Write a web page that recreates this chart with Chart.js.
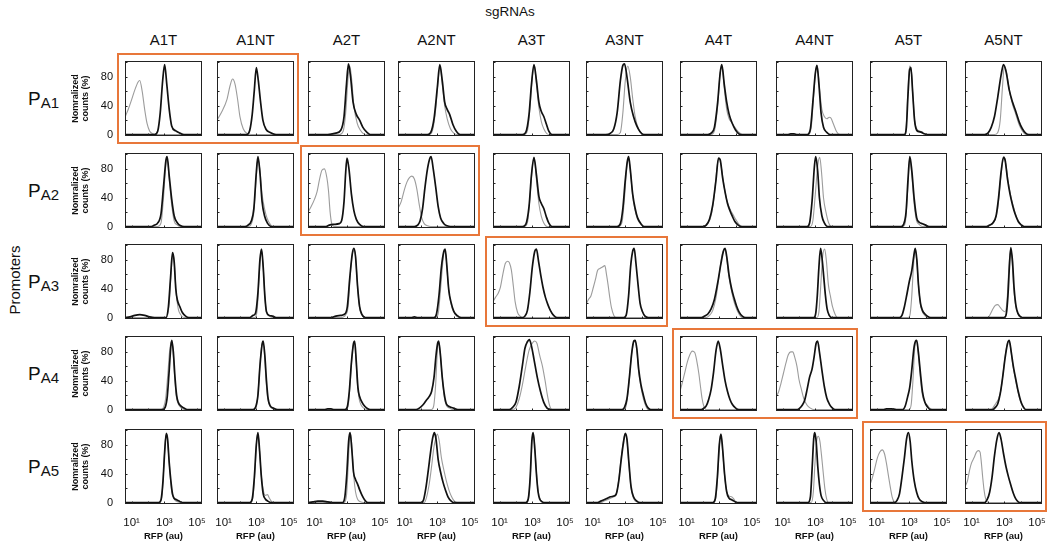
<!DOCTYPE html>
<html>
<head>
<meta charset="utf-8">
<script src="https://cdn.jsdelivr.net/npm/chart.js@4.4.1/dist/chart.umd.min.js"></script>
<style>
  body { margin: 0; background: #fff; font-family: "Liberation Sans", Arial, sans-serif; }
  #wrap { position: relative; width: 1051px; height: 544px; overflow: hidden; }
  .lbl { position: absolute; color: #111; white-space: nowrap; }
  canvas { position: absolute; }
  .box { position: absolute; border: 2px solid #e8773a; box-sizing: border-box; }
</style>
</head>
<body>
<div id="wrap"></div>
<script>
// columns / rows of the grid
const sgRNAs = ['A1T', 'A1NT', 'A2T', 'A2NT', 'A3T', 'A3NT', 'A4T', 'A4NT', 'A5T', 'A5NT'];
const promoters = ['A1', 'A2', 'A3', 'A4', 'A5'];
// each promoter is boxed with its own targeting / non-targeting sgRNA pair
const boxedPairs = [['A1T', 'A1NT'], ['A2T', 'A2NT'], ['A3T', 'A3NT'], ['A4T', 'A4NT'], ['A5T', 'A5NT']];

// x is log10(RFP), y is normalized counts (%)
const xTicks = [1, 3, 5];
const xTickLabels = ['10¹', '10³', '10⁵'];
const yTicks = [0, 40, 80];

// black = reference histogram, grey = overlay, one curve per sgRNA column
const blackPA1 = [
  [[0.6,0],[2.4,0],[2.6,5],[2.75,30],[2.9,75],[3.02,97],[3.15,70],[3.3,35],[3.45,12],[3.7,5],[3.95,2],[4.2,0],[5.3,0]],
  [[0.6,0],[2.4,0],[2.6,6],[2.75,28],[2.88,62],[3.0,93],[3.12,75],[3.25,47],[3.4,20],[3.6,7],[3.85,3],[4.2,0],[5.3,0]],
  [[0.6,0],[1.8,0],[2.3,2],[2.6,6],[2.8,25],[2.95,70],[3.07,98],[3.2,80],[3.35,45],[3.55,28],[3.75,20],[3.95,10],[4.2,3],[4.4,0],[5.3,0]],
  [[0.6,0],[2.4,0],[2.6,3],[2.8,22],[3.0,65],[3.15,97],[3.3,75],[3.45,45],[3.6,35],[3.75,28],[3.95,14],[4.15,5],[4.4,0],[5.3,0]],
  [[0.6,0],[2.4,0],[2.6,3],[2.8,28],[2.95,70],[3.1,97],[3.25,75],[3.4,45],[3.55,32],[3.7,25],[3.85,15],[4.0,5],[4.2,0],[5.3,0]],
  [[0.6,0],[1.8,0],[2.1,2],[2.3,8],[2.5,30],[2.7,75],[2.85,96],[2.95,98],[3.1,80],[3.3,45],[3.5,25],[3.7,12],[3.9,4],[4.1,0],[5.3,0]],
  [[0.6,0],[2.3,0],[2.5,2],[2.7,10],[2.9,45],[3.05,85],[3.15,97],[3.3,70],[3.45,45],[3.6,28],[3.8,15],[4.0,6],[4.3,0],[5.3,0]],
  [[0.6,0],[1.3,0],[1.5,1],[1.7,1],[1.9,0],[2.5,0],[2.7,8],[2.85,45],[3.0,85],[3.1,96],[3.22,70],[3.35,30],[3.5,10],[3.7,3],[3.9,0],[5.3,0]],
  [[0.6,0],[2.7,0],[2.82,10],[2.92,55],[3.02,90],[3.1,93],[3.2,60],[3.32,20],[3.45,6],[3.6,4],[3.75,3],[3.9,1],[4.1,0],[5.3,0]],
  [[0.6,0],[1.8,0],[2.0,2],[2.2,10],[2.4,25],[2.6,52],[2.8,82],[2.95,97],[3.1,88],[3.3,62],[3.5,45],[3.7,32],[3.9,18],[4.1,8],[4.3,2],[4.5,0],[5.3,0]]
];
const greyPA1 = [
  [[0.6,24],[0.8,35],[1.0,48],[1.2,62],[1.4,73],[1.5,75],[1.65,60],[1.8,35],[1.95,15],[2.1,5],[2.3,1],[2.5,0],[5.3,0]],
  [[0.6,20],[0.9,32],[1.2,48],[1.4,68],[1.55,77],[1.7,70],[1.85,50],[2.0,25],[2.2,8],[2.45,1],[2.7,0],[5.3,0]],
  [[0.6,0],[2.5,0],[2.75,5],[2.9,30],[3.05,80],[3.15,95],[3.25,80],[3.4,40],[3.6,16],[3.8,6],[4.0,1],[4.2,0],[5.3,0]],
  [[0.6,0],[2.5,0],[2.7,5],[2.9,35],[3.05,75],[3.17,95],[3.3,70],[3.45,40],[3.6,22],[3.8,8],[4.0,2],[4.2,0],[5.3,0]],
  [[0.6,0],[2.5,0],[2.7,5],[2.85,35],[3.0,80],[3.12,96],[3.25,70],[3.4,38],[3.55,18],[3.7,8],[3.9,1],[4.1,0],[5.3,0]],
  [[0.6,0],[2.5,0],[2.7,3],[2.85,30],[3.0,75],[3.15,95],[3.3,80],[3.45,50],[3.6,25],[3.8,8],[4.0,2],[4.2,0],[5.3,0]],
  [[0.6,0],[2.5,0],[2.7,5],[2.9,40],[3.05,85],[3.17,95],[3.3,65],[3.45,35],[3.6,22],[3.75,17],[3.95,10],[4.15,4],[4.4,0],[5.3,0]],
  [[0.6,0],[2.55,0],[2.75,10],[2.9,55],[3.05,92],[3.12,95],[3.25,65],[3.4,35],[3.55,25],[3.7,22],[3.85,24],[3.95,23],[4.1,15],[4.3,4],[4.5,0],[5.3,0]],
  [[0.6,0],[2.7,0],[2.82,15],[2.92,65],[3.02,95],[3.12,90],[3.22,55],[3.32,20],[3.45,8],[3.6,5],[3.75,4],[3.9,2],[4.1,0],[5.3,0]],
  [[0.6,0],[2.4,0],[2.6,3],[2.75,20],[2.9,70],[3.0,95],[3.15,85],[3.3,62],[3.5,42],[3.7,28],[3.9,14],[4.1,5],[4.3,0],[5.3,0]]
];

const blackPA2 = [
  [[0.6,0],[2.2,0],[2.4,2],[2.6,5],[2.8,18],[2.95,55],[3.1,92],[3.17,97],[3.3,70],[3.45,38],[3.6,15],[3.8,5],[4.0,1],[4.2,0],[5.3,0]],
  [[0.6,0],[2.3,0],[2.5,2],[2.7,8],[2.85,25],[3.0,75],[3.1,97],[3.22,75],[3.35,35],[3.5,15],[3.7,4],[3.9,0],[5.3,0]],
  [[0.6,0],[1.7,0],[1.9,2],[2.2,3],[2.5,4],[2.65,8],[2.8,35],[2.9,75],[2.98,95],[3.1,80],[3.25,45],[3.4,22],[3.55,10],[3.75,3],[4.0,0],[5.3,0]],
  [[0.6,0],[1.6,0],[1.8,2],[1.95,8],[2.1,25],[2.25,55],[2.4,80],[2.55,95],[2.62,97],[2.75,80],[2.9,55],[3.05,28],[3.2,12],[3.4,4],[3.6,1],[3.8,0],[5.3,0]],
  [[0.6,0],[2.4,0],[2.6,3],[2.8,28],[2.95,72],[3.1,96],[3.25,72],[3.4,42],[3.55,32],[3.7,25],[3.85,14],[4.0,5],[4.2,0],[5.3,0]],
  [[0.6,0],[2.5,0],[2.7,4],[2.85,25],[3.0,65],[3.12,90],[3.2,97],[3.3,80],[3.45,45],[3.6,25],[3.75,12],[3.95,4],[4.15,0],[5.3,0]],
  [[0.6,0],[2.0,0],[2.2,2],[2.4,10],[2.6,30],[2.8,65],[2.95,95],[3.05,93],[3.2,68],[3.35,48],[3.5,32],[3.65,22],[3.8,14],[3.95,7],[4.15,2],[4.35,0],[5.3,0]],
  [[0.6,0],[2.5,0],[2.65,5],[2.8,35],[2.95,85],[3.03,97],[3.15,75],[3.25,40],[3.4,15],[3.55,5],[3.75,0],[5.3,0]],
  [[0.6,0],[2.5,0],[2.65,3],[2.8,20],[2.92,65],[3.03,97],[3.15,78],[3.3,38],[3.45,12],[3.6,6],[3.8,4],[4.0,2],[4.2,0],[5.3,0]],
  [[0.6,0],[1.9,0],[2.1,2],[2.3,5],[2.5,15],[2.65,40],[2.8,75],[2.95,96],[3.05,92],[3.2,65],[3.35,45],[3.5,30],[3.65,18],[3.85,7],[4.05,2],[4.2,0],[5.3,0]]
];
const greyPA2 = [
  [[0.6,0],[2.6,0],[2.8,5],[2.95,40],[3.1,88],[3.17,95],[3.3,65],[3.45,30],[3.6,8],[3.8,2],[4.0,0],[5.3,0]],
  [[0.6,0],[2.5,0],[2.7,4],[2.85,20],[3.0,70],[3.1,95],[3.22,78],[3.35,45],[3.5,25],[3.65,12],[3.85,3],[4.0,0],[5.3,0]],
  [[0.6,20],[0.8,28],[1.0,38],[1.15,48],[1.3,65],[1.45,78],[1.6,80],[1.75,68],[1.85,50],[1.95,20],[2.05,4],[2.2,0],[5.3,0]],
  [[0.6,25],[0.8,35],[1.0,52],[1.15,62],[1.3,68],[1.45,70],[1.6,66],[1.75,52],[1.9,30],[2.05,12],[2.2,4],[2.4,1],[2.6,0],[5.3,0]],
  [[0.6,0],[2.5,0],[2.7,5],[2.85,38],[3.0,82],[3.12,95],[3.25,65],[3.4,32],[3.55,14],[3.7,5],[3.9,0],[5.3,0]],
  [[0.6,0],[2.6,0],[2.8,6],[2.95,40],[3.1,85],[3.2,95],[3.3,78],[3.45,42],[3.6,22],[3.75,10],[3.95,3],[4.1,0],[5.3,0]],
  [[0.6,0],[2.1,0],[2.3,4],[2.5,15],[2.7,45],[2.85,80],[2.97,95],[3.1,85],[3.25,62],[3.4,42],[3.55,30],[3.7,22],[3.85,16],[4.0,10],[4.2,3],[4.4,0],[5.3,0]],
  [[0.6,0],[2.7,0],[2.85,8],[3.0,45],[3.15,85],[3.27,96],[3.38,75],[3.5,40],[3.65,20],[3.8,6],[4.0,0],[5.3,0]],
  [[0.6,0],[2.6,0],[2.75,5],[2.9,50],[3.02,95],[3.14,75],[3.28,35],[3.42,10],[3.6,3],[3.8,0],[5.3,0]],
  [[0.6,0],[2.0,0],[2.2,3],[2.4,8],[2.6,25],[2.75,60],[2.9,90],[2.98,97],[3.1,85],[3.25,60],[3.4,42],[3.55,28],[3.7,16],[3.9,6],[4.1,1],[4.3,0],[5.3,0]]
];

const blackPA3 = [
  [[0.6,0],[0.9,1],[1.2,3],[1.5,4],[1.8,3],[2.1,1],[2.4,0],[3.1,0],[3.25,15],[3.38,55],[3.5,90],[3.6,78],[3.7,40],[3.8,24],[3.95,15],[4.1,7],[4.3,2],[4.5,0],[5.3,0]],
  [[0.6,0],[2.6,0],[2.8,3],[2.95,6],[3.1,35],[3.22,80],[3.32,95],[3.42,70],[3.52,30],[3.62,8],[3.8,3],[4.0,2],[4.2,0],[5.3,0]],
  [[0.6,0],[2.0,0],[2.3,2],[2.6,3],[2.85,5],[3.0,15],[3.15,55],[3.3,88],[3.4,96],[3.5,85],[3.62,45],[3.75,15],[3.9,4],[4.1,0],[5.3,0]],
  [[0.6,0],[1.4,0],[1.6,1],[1.8,0],[2.8,0],[2.95,5],[3.1,30],[3.25,70],[3.4,92],[3.48,95],[3.58,72],[3.7,38],[3.85,20],[4.0,9],[4.2,3],[4.45,0],[5.3,0]],
  [[0.6,0],[2.4,0],[2.55,2],[2.7,10],[2.85,35],[3.0,70],[3.15,92],[3.25,95],[3.38,78],[3.52,58],[3.65,42],[3.8,28],[3.95,18],[4.1,10],[4.3,3],[4.5,0],[5.3,0]],
  [[0.6,0],[2.9,0],[3.05,3],[3.2,30],[3.32,70],[3.45,92],[3.54,96],[3.65,75],[3.78,45],[3.9,20],[4.05,8],[4.2,2],[4.4,0],[5.3,0]],
  [[0.6,0],[1.9,0],[2.1,2],[2.3,5],[2.5,12],[2.7,25],[2.9,48],[3.1,75],[3.25,92],[3.35,96],[3.45,85],[3.6,58],[3.75,40],[3.9,27],[4.05,16],[4.2,8],[4.4,2],[4.6,0],[5.3,0]],
  [[0.6,0],[2.9,0],[3.02,5],[3.12,30],[3.22,70],[3.32,96],[3.42,80],[3.52,55],[3.62,30],[3.72,12],[3.85,3],[4.0,0],[5.3,0]],
  [[0.6,0],[2.4,0],[2.55,3],[2.7,15],[2.85,32],[3.0,50],[3.15,65],[3.27,85],[3.36,96],[3.46,80],[3.56,45],[3.68,20],[3.8,10],[3.95,5],[4.1,2],[4.3,0],[5.3,0]],
  [[0.6,0],[3.0,0],[3.12,5],[3.22,30],[3.32,75],[3.4,97],[3.5,78],[3.6,40],[3.72,15],[3.85,5],[4.0,1],[4.15,0],[5.3,0]]
];
const greyPA3 = [
  [[0.6,0],[3.15,0],[3.3,20],[3.42,65],[3.52,88],[3.62,72],[3.72,35],[3.85,12],[4.0,4],[4.2,0],[5.3,0]],
  [[0.6,0],[2.9,0],[3.05,10],[3.17,55],[3.3,94],[3.42,70],[3.52,30],[3.62,8],[3.8,2],[4.0,0],[5.3,0]],
  [[0.6,0],[2.6,0],[2.9,4],[3.05,15],[3.2,65],[3.35,92],[3.45,93],[3.55,70],[3.65,35],[3.78,10],[3.95,2],[4.1,0],[5.3,0]],
  [[0.6,0],[2.9,0],[3.05,5],[3.2,40],[3.35,80],[3.45,94],[3.55,80],[3.65,50],[3.78,25],[3.92,12],[4.1,4],[4.3,0],[5.3,0]],
  [[0.6,22],[0.75,28],[0.9,33],[1.05,42],[1.2,60],[1.35,75],[1.5,78],[1.6,76],[1.72,66],[1.85,42],[1.95,22],[2.1,7],[2.25,2],[2.4,0],[5.3,0]],
  [[0.6,18],[0.75,25],[0.9,30],[1.05,42],[1.2,55],[1.3,65],[1.45,68],[1.6,70],[1.75,72],[1.85,60],[1.95,45],[2.05,28],[2.15,14],[2.3,3],[2.45,0],[5.3,0]],
  [[0.6,0],[2.2,0],[2.4,3],[2.6,10],[2.8,28],[3.0,60],[3.15,85],[3.3,95],[3.42,88],[3.55,62],[3.7,42],[3.85,26],[4.0,15],[4.2,5],[4.4,0],[5.3,0]],
  [[0.6,0],[3.1,0],[3.22,8],[3.32,40],[3.45,85],[3.57,95],[3.67,80],[3.8,45],[3.92,30],[4.05,15],[4.2,5],[4.35,0],[5.3,0]],
  [[0.6,0],[2.95,0],[3.05,5],[3.15,30],[3.25,70],[3.35,94],[3.45,80],[3.56,45],[3.68,18],[3.8,8],[3.95,3],[4.1,0],[5.3,0]],
  [[0.6,0],[2.0,0],[2.15,5],[2.3,12],[2.45,17],[2.6,18],[2.75,14],[2.9,10],[3.05,8],[3.17,25],[3.27,65],[3.37,94],[3.47,80],[3.57,42],[3.7,15],[3.85,4],[4.0,0],[5.3,0]]
];

const blackPA4 = [
  [[0.6,0],[2.9,0],[3.05,3],[3.18,18],[3.3,55],[3.4,88],[3.46,96],[3.55,80],[3.65,45],[3.75,20],[3.85,10],[4.0,5],[4.2,2],[4.4,0],[5.3,0]],
  [[0.6,0],[2.8,0],[2.95,3],[3.1,20],[3.22,60],[3.35,90],[3.42,95],[3.52,75],[3.62,40],[3.72,15],[3.85,5],[4.05,2],[4.3,0],[5.3,0]],
  [[0.6,0],[1.6,0],[1.8,1],[2.0,1],[2.2,0],[2.85,0],[3.0,4],[3.12,25],[3.25,65],[3.38,92],[3.45,95],[3.55,65],[3.65,30],[3.75,18],[3.9,10],[4.05,5],[4.25,1],[4.4,0],[5.3,0]],
  [[0.6,0],[1.7,0],[1.9,2],[2.1,6],[2.3,12],[2.5,18],[2.65,25],[2.8,45],[2.92,75],[3.02,92],[3.08,95],[3.18,78],[3.3,45],[3.42,22],[3.55,8],[3.75,4],[4.0,2],[4.25,0],[5.3,0]],
  [[0.6,0],[1.6,0],[1.8,3],[2.0,10],[2.2,32],[2.4,62],[2.55,85],[2.7,94],[2.82,97],[2.95,88],[3.1,70],[3.3,45],[3.5,25],[3.7,10],[3.9,2],[4.1,0],[5.3,0]],
  [[0.6,0],[2.8,0],[2.95,3],[3.1,15],[3.25,45],[3.4,80],[3.52,95],[3.6,96],[3.7,85],[3.82,55],[3.95,35],[4.1,20],[4.25,8],[4.4,2],[4.55,0],[5.3,0]],
  [[0.6,0],[1.9,0],[2.05,2],[2.2,5],[2.35,14],[2.5,28],[2.65,52],[2.8,82],[2.93,95],[3.05,85],[3.2,62],[3.35,40],[3.5,25],[3.65,14],[3.8,7],[4.0,2],[4.2,0],[5.3,0]],
  [[0.6,0],[1.9,0],[2.05,2],[2.2,6],[2.35,13],[2.5,28],[2.65,45],[2.8,56],[2.92,72],[3.05,92],[3.14,95],[3.25,80],[3.4,55],[3.55,32],[3.7,16],[3.85,8],[4.0,3],[4.2,0],[5.3,0]],
  [[0.6,0],[1.4,0],[1.6,1],[1.9,1],[2.2,0],[2.6,0],[2.75,5],[2.9,18],[3.02,30],[3.15,55],[3.28,85],[3.38,95],[3.45,96],[3.55,80],[3.68,50],[3.8,25],[3.95,10],[4.1,4],[4.3,0],[5.3,0]],
  [[0.6,0],[2.3,0],[2.45,3],[2.6,8],[2.75,22],[2.9,45],[3.05,72],[3.2,92],[3.3,96],[3.42,80],[3.55,60],[3.7,42],[3.85,25],[4.0,12],[4.15,4],[4.3,0],[5.3,0]]
];
const greyPA4 = [
  [[0.6,0],[2.8,0],[2.95,3],[3.08,15],[3.2,45],[3.32,80],[3.42,94],[3.52,85],[3.62,50],[3.72,20],[3.85,8],[4.0,3],[4.2,0],[5.3,0]],
  [[0.6,0],[2.85,0],[3.0,4],[3.12,28],[3.25,70],[3.38,94],[3.48,82],[3.58,45],[3.68,18],[3.8,6],[3.95,2],[4.1,0],[5.3,0]],
  [[0.6,0],[2.9,0],[3.05,5],[3.17,35],[3.3,78],[3.42,94],[3.52,72],[3.62,35],[3.72,15],[3.85,6],[4.0,2],[4.2,0],[5.3,0]],
  [[0.6,0],[2.65,0],[2.78,5],[2.9,35],[3.0,80],[3.08,94],[3.18,78],[3.3,45],[3.42,18],[3.55,6],[3.75,2],[3.95,0],[5.3,0]],
  [[0.6,0],[1.8,0],[2.0,3],[2.2,15],[2.4,35],[2.6,60],[2.8,82],[3.0,92],[3.15,95],[3.28,92],[3.45,75],[3.62,60],[3.78,40],[3.92,20],[4.05,6],[4.2,0],[5.3,0]],
  [[0.6,0],[2.9,0],[3.05,5],[3.2,30],[3.35,70],[3.5,92],[3.6,95],[3.7,82],[3.82,52],[3.95,32],[4.1,15],[4.25,5],[4.4,0],[5.3,0]],
  [[0.6,25],[0.75,38],[0.9,52],[1.05,66],[1.2,76],[1.35,81],[1.5,79],[1.62,68],[1.75,50],[1.85,32],[1.95,15],[2.05,5],[2.2,0],[5.3,0]],
  [[0.6,18],[0.75,24],[0.9,36],[1.05,50],[1.2,64],[1.35,76],[1.5,80],[1.62,80],[1.75,72],[1.88,60],[2.0,42],[2.15,28],[2.3,15],[2.5,6],[2.7,2],[2.9,0],[5.3,0]],
  [[0.6,0],[3.0,0],[3.12,8],[3.22,40],[3.33,85],[3.43,95],[3.55,78],[3.67,45],[3.8,20],[3.95,10],[4.1,6],[4.25,2],[4.4,0],[5.3,0]],
  [[0.6,0],[2.2,0],[2.35,4],[2.5,9],[2.65,15],[2.8,28],[2.95,55],[3.1,82],[3.25,95],[3.35,90],[3.5,65],[3.65,45],[3.8,28],[3.95,14],[4.1,5],[4.3,0],[5.3,0]]
];

const blackPA5 = [
  [[0.6,0],[2.65,0],[2.8,4],[2.92,30],[3.02,70],[3.12,96],[3.2,88],[3.3,55],[3.4,30],[3.5,12],[3.6,6],[3.75,4],[3.9,2],[4.1,0],[5.3,0]],
  [[0.6,0],[2.6,0],[2.75,5],[2.88,35],[3.0,80],[3.1,97],[3.2,72],[3.3,38],[3.42,12],[3.55,5],[3.7,2],[3.9,0],[5.3,0]],
  [[0.6,0],[0.9,1],[1.2,2],[1.5,2],[1.8,1],[2.1,0],[2.7,0],[2.85,8],[2.97,40],[3.08,85],[3.17,97],[3.27,75],[3.38,42],[3.5,32],[3.62,26],[3.75,18],[3.9,10],[4.05,4],[4.25,0],[5.3,0]],
  [[0.6,0],[2.0,0],[2.15,3],[2.3,20],[2.45,45],[2.6,72],[2.72,90],[2.82,97],[2.92,88],[3.05,60],[3.2,42],[3.35,28],[3.5,17],[3.65,8],[3.85,2],[4.0,0],[5.3,0]],
  [[0.6,0],[2.6,0],[2.75,5],[2.87,35],[2.97,85],[3.05,97],[3.15,75],[3.25,40],[3.35,15],[3.45,5],[3.6,1],[3.8,0],[5.3,0]],
  [[0.6,0],[1.3,0],[1.5,2],[1.7,4],[1.9,6],[2.1,8],[2.3,9],[2.45,12],[2.6,30],[2.75,60],[2.9,85],[3.0,96],[3.1,88],[3.22,55],[3.35,22],[3.5,8],[3.7,2],[3.9,0],[5.3,0]],
  [[0.6,0],[2.6,0],[2.75,5],[2.88,35],[3.0,80],[3.1,95],[3.2,75],[3.32,40],[3.45,15],[3.6,6],[3.75,4],[3.9,2],[4.05,0],[5.3,0]],
  [[0.6,0],[2.55,0],[2.7,8],[2.8,45],[2.9,88],[2.96,97],[3.05,85],[3.15,50],[3.25,25],[3.35,10],[3.5,3],[3.65,0],[5.3,0]],
  [[0.6,0],[2.1,0],[2.25,3],[2.4,12],[2.55,35],[2.7,62],[2.83,88],[2.94,97],[3.05,85],[3.15,58],[3.3,30],[3.45,14],[3.6,5],[3.8,1],[3.95,0],[5.3,0]],
  [[0.6,0],[1.8,0],[1.95,4],[2.1,14],[2.25,35],[2.4,65],[2.55,88],[2.68,97],[2.8,88],[2.95,68],[3.1,50],[3.25,36],[3.4,24],[3.55,13],[3.7,5],[3.85,1],[4.0,0],[5.3,0]]
];
const greyPA5 = [
  [[0.6,0],[2.7,0],[2.85,8],[2.97,50],[3.08,90],[3.15,95],[3.25,70],[3.35,40],[3.45,15],[3.6,5],[3.8,1],[4.0,0],[5.3,0]],
  [[0.6,0],[2.65,0],[2.8,8],[2.92,45],[3.03,88],[3.1,95],[3.2,70],[3.3,38],[3.42,18],[3.55,10],[3.68,11],[3.8,6],[3.95,1],[4.1,0],[5.3,0]],
  [[0.6,0],[2.8,0],[2.95,10],[3.05,50],[3.14,90],[3.2,95],[3.3,70],[3.4,35],[3.5,15],[3.62,5],[3.8,1],[4.0,0],[5.3,0]],
  [[0.6,0],[2.2,0],[2.35,8],[2.5,25],[2.65,50],[2.8,78],[2.92,90],[3.0,95],[3.12,85],[3.25,62],[3.4,45],[3.55,30],[3.7,18],[3.85,9],[4.0,3],[4.2,0],[5.3,0]],
  [[0.6,0],[2.65,0],[2.8,10],[2.92,55],[3.02,95],[3.1,90],[3.2,60],[3.3,28],[3.4,10],[3.55,2],[3.7,0],[5.3,0]],
  [[0.6,0],[1.5,0],[1.7,2],[1.9,4],[2.1,6],[2.3,8],[2.45,12],[2.6,32],[2.75,62],[2.9,88],[3.0,95],[3.1,86],[3.22,52],[3.35,20],[3.5,6],[3.7,1],[3.9,0],[5.3,0]],
  [[0.6,0],[2.65,0],[2.8,8],[2.92,45],[3.03,88],[3.1,94],[3.2,72],[3.32,38],[3.45,15],[3.6,9],[3.75,8],[3.88,5],[4.0,1],[4.15,0],[5.3,0]],
  [[0.6,0],[2.75,0],[2.88,15],[2.98,55],[3.08,85],[3.18,92],[3.28,85],[3.38,65],[3.48,42],[3.58,20],[3.68,6],[3.8,0],[5.3,0]],
  [[0.6,25],[0.75,35],[0.9,48],[1.05,62],[1.2,70],[1.35,73],[1.48,68],[1.6,55],[1.72,38],[1.85,20],[1.95,8],[2.05,2],[2.2,0],[5.3,0]],
  [[0.6,22],[0.75,30],[0.88,45],[1.0,55],[1.15,62],[1.3,70],[1.42,72],[1.52,70],[1.6,55],[1.68,35],[1.76,18],[1.85,6],[1.95,1],[2.1,0],[5.3,0]]
];

const blackRows = [blackPA1, blackPA2, blackPA3, blackPA4, blackPA5];
const greyRows = [greyPA1, greyPA2, greyPA3, greyPA4, greyPA5];

// layout of the panel grid (px)
const colLeft = [125, 217, 308, 398, 493, 586, 680, 776, 870, 965];
const rowTop = [61, 153, 244, 336, 429];
const PW = 77, PH = 75;
const PAD = 24; // big enough that tick labels never squeeze the plot area
const Y_AXIS_W = 55, X_AXIS_H = 40;

const wrap = document.getElementById('wrap');

function addLabel(html, css) {
  const d = document.createElement('div');
  d.className = 'lbl';
  d.innerHTML = html;
  Object.assign(d.style, css);
  wrap.appendChild(d);
  return d;
}

// frame + small inside ticks for every panel
const framePlugin = {
  id: 'frame',
  afterDatasetsDraw(chart) {
    const { ctx, chartArea: a, scales } = chart;
    ctx.save();
    ctx.strokeStyle = '#222';
    ctx.lineWidth = 1;
    ctx.strokeRect(a.left + 0.5, a.top + 0.5, a.right - a.left - 1, a.bottom - a.top - 1);
    ctx.beginPath();
    [0, 20, 40, 60, 80, 100].forEach(v => {
      const y = Math.round(scales.y.getPixelForValue(v)) + 0.5;
      ctx.moveTo(a.left, y); ctx.lineTo(a.left + 2.5, y);
    });
    [1, 2, 3, 4, 5].forEach(v => {
      const x = Math.round(scales.x.getPixelForValue(v)) + 0.5;
      ctx.moveTo(x, a.bottom); ctx.lineTo(x, a.bottom - 2.5);
    });
    ctx.stroke();
    ctx.restore();
  }
};

const toXY = pts => pts.map(p => ({ x: p[0], y: p[1] }));

function makePanel(r, c) {
  const firstCol = c === 0, lastRow = r === promoters.length - 1;
  const yW = firstCol ? Y_AXIS_W : 0, xH = lastRow ? X_AXIS_H : 0;
  const cv = document.createElement('canvas');
  cv.width = PAD + yW + PW + PAD;
  cv.height = PAD + PH + xH + PAD;
  cv.style.left = (colLeft[c] - yW - PAD) + 'px';
  cv.style.top = (rowTop[r] - PAD) + 'px';
  wrap.appendChild(cv);

  new Chart(cv, {
    type: 'line',
    data: {
      datasets: [
        { data: toXY(blackRows[r][c]), borderColor: '#111', borderWidth: 1.7, order: 0 },
        { data: toXY(greyRows[r][c]), borderColor: '#9c9c9c', borderWidth: 1.1, order: 1 }
      ]
    },
    options: {
      responsive: false,
      animation: false,
      events: [],
      layout: { padding: PAD },
      elements: { point: { radius: 0 }, line: { cubicInterpolationMode: 'monotone', fill: false } },
      plugins: { legend: { display: false }, tooltip: { enabled: false } },
      scales: {
        x: {
          type: 'linear', min: 0.6, max: 5.3, display: lastRow,
          grid: { display: false, drawTicks: false }, border: { display: false },
          afterBuildTicks: s => { s.ticks = xTicks.map(v => ({ value: v })); },
          afterFit: s => { s.height = xH; },
          ticks: {
            autoSkip: false, maxRotation: 0, padding: 12, color: '#111',
            font: { family: 'Liberation Sans', size: 11.5 },
            callback: v => xTickLabels[xTicks.indexOf(v)]
          },
          title: {
            display: true, text: 'RFP (au)', color: '#111',
            font: { family: 'Liberation Sans', size: 9.5, weight: 'bold' },
            padding: { top: 1, bottom: 2 }
          }
        },
        y: {
          min: -2, max: 102, display: firstCol,
          grid: { display: false, drawTicks: false }, border: { display: false },
          afterBuildTicks: s => { s.ticks = yTicks.map(v => ({ value: v })); },
          afterFit: s => { s.width = yW; },
          ticks: { padding: 12, color: '#111', font: { family: 'Liberation Sans', size: 11 } },
          title: {
            display: true, text: ['Nomralized', 'counts (%)'], color: '#111',
            font: { family: 'Liberation Sans', size: 9, weight: 'bold', lineHeight: 1.15 },
            padding: { top: 0, bottom: 0 }
          }
        }
      }
    },
    plugins: [framePlugin]
  });
}

// titles
addLabel('sgRNAs', { left: '460px', top: '4px', width: '100px', textAlign: 'center', fontSize: '13.5px' });
sgRNAs.forEach((s, c) => {
  addLabel(s, { left: (colLeft[c] - 10) + 'px', top: '31px', width: (PW + 20) + 'px', textAlign: 'center', fontSize: '15px', lineHeight: '18px' });
});
addLabel('Promoters', {
  left: '-35px', top: '270px', width: '100px', textAlign: 'center', fontSize: '15px', lineHeight: '20px',
  transform: 'rotate(-90deg)'
});
promoters.forEach((p, r) => {
  addLabel('P<span style="font-size:15px;position:relative;top:3px">' + p + '</span>', {
    left: '28px', top: (rowTop[r] + PH / 2 - 11) + 'px', fontSize: '19px', lineHeight: '22px'
  });
});

// orange boxes round each promoter's own sgRNA pair
boxedPairs.forEach((pair, r) => {
  const c0 = sgRNAs.indexOf(pair[0]), c1 = sgRNAs.indexOf(pair[1]);
  const b = document.createElement('div');
  b.className = 'box';
  const left = colLeft[c0] - 8, right = colLeft[c1] + PW + 5;
  b.style.left = left + 'px';
  b.style.top = (rowTop[r] - 8) + 'px';
  b.style.width = (right - left) + 'px';
  b.style.height = (PH + 16) + 'px';
  wrap.appendChild(b);
});

promoters.forEach((p, r) => sgRNAs.forEach((s, c) => makePanel(r, c)));
</script>
</body>
</html>
